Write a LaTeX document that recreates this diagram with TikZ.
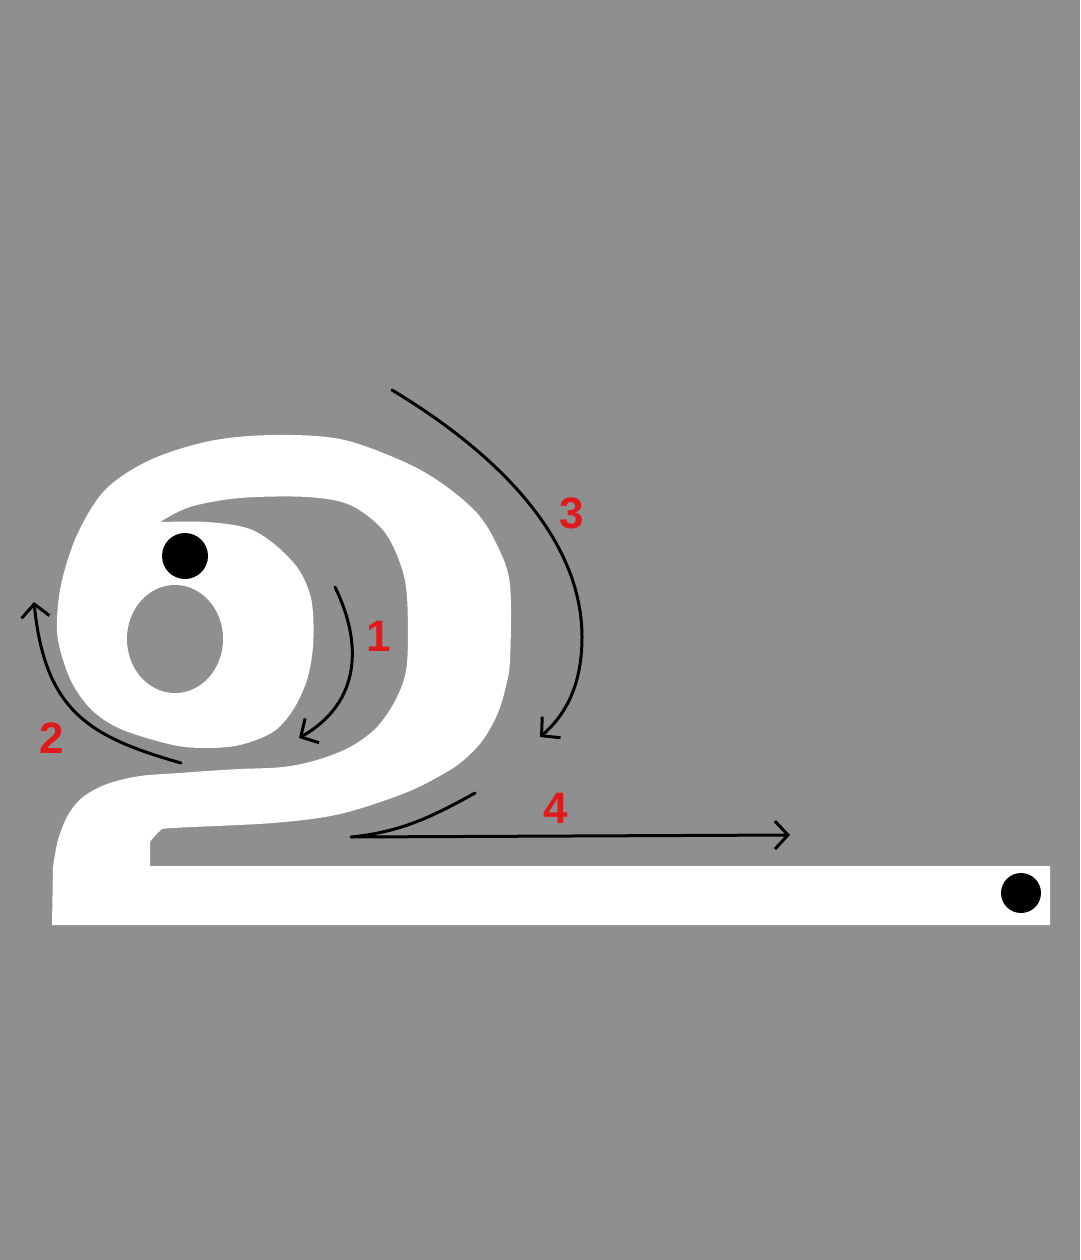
\documentclass[tikz,border=0pt]{standalone}
\usepackage{fontspec}
\setmainfont{Liberation Sans}
\usetikzlibrary{arrows.meta}
\definecolor{bggray}{RGB}{143,143,143}
\definecolor{numred}{RGB}{224,26,28}
\tikzset{
  glyph/.style={fill=white},
  hole/.style={fill=bggray},
  dotmark/.style={fill=black},
  trace/.style={draw=black, line width=3pt, line cap=round, line join=round,
    -{Straight Barb[length=13pt,width=28pt,line width=3pt]}},
  num/.style={text=numred, font=\fontsize{44}{48}\selectfont\bfseries, inner sep=0pt}
}
\begin{document}
\begin{tikzpicture}[x=1pt,y=-1pt]
\path[use as bounding box, fill=bggray] (0,0) rectangle (1080,1260);
% white glyph
\fill[glyph] (52,925) -- (1050,925) -- (1050,866) -- (150,866) -- (150,842)
 -- plot[smooth, tension=0.55] coordinates {(150,842) (160,831) (173,828) (273,823) (340,814) (405,793) (445,773) (465,759) (483,740) (497,715) (505,690) (510,660) (510,585) (498,547) (477,513) (440,482) (400,460) (340,439) (273,435) (210,441) (150,460) (105,490) (77,535) (61,585) (57,630) (64,663) (76,690) (95,713) (123,730) (173,745) (207,748) (240,745) (273,732) (293,710) (307,680) (313,647) (313,613) (309,591) (297,567) (273,543) (247,528) (207,522) (160,522)}
 -- plot[smooth, tension=0.55] coordinates {(160,522) (190,507) (240,498) (307,497) (350,505) (383,530) (400,563) (407,597) (407,663) (397,697) (377,727) (350,747) (317,760) (283,767) (240,769) (207,771) (180,773) (140,776) (107,784) (83,797) (68,815) (58,840) (53,867)}
 -- cycle;
\fill[hole] (175,639) ellipse [x radius=48, y radius=54];
% start and end dots
\fill[dotmark] (185,556) circle [radius=23];
\fill[dotmark] (1021,893) circle [radius=20];
% arrow end points
\coordinate (a1s) at (335,587);
\coordinate (a1e) at (299,738);
\coordinate (a2s) at (181,763);
\coordinate (a2e) at (34,602);
\coordinate (a3s) at (392,390);
\coordinate (a3m) at (582,637);
\coordinate (a3e) at (540,737);
\coordinate (a4s) at (475,793);
\coordinate (a4m) at (351,837);
\coordinate (a4e) at (790,835);
% arrows
\draw[trace] (a1s) .. controls (362,642) and (362,702) .. (a1e);
\draw[trace] (a2s) .. controls (90,737) and (45,712) .. (a2e);
\draw[trace] (a3s) .. controls (500,455) and (582,540) .. (a3m) .. controls (582,690) and (562,718) .. (a3e);
\draw[trace] (a4s) .. controls (430,818) and (400,832) .. (a4m) -- (a4e);
% labels
\node[num] (n1) at (379,636) {1};
\node[num] (n2) at (52,738) {2};
\node[num] (n3) at (572,513) {3};
\node[num] (n4) at (556,808) {4};
\end{tikzpicture}
\end{document}
